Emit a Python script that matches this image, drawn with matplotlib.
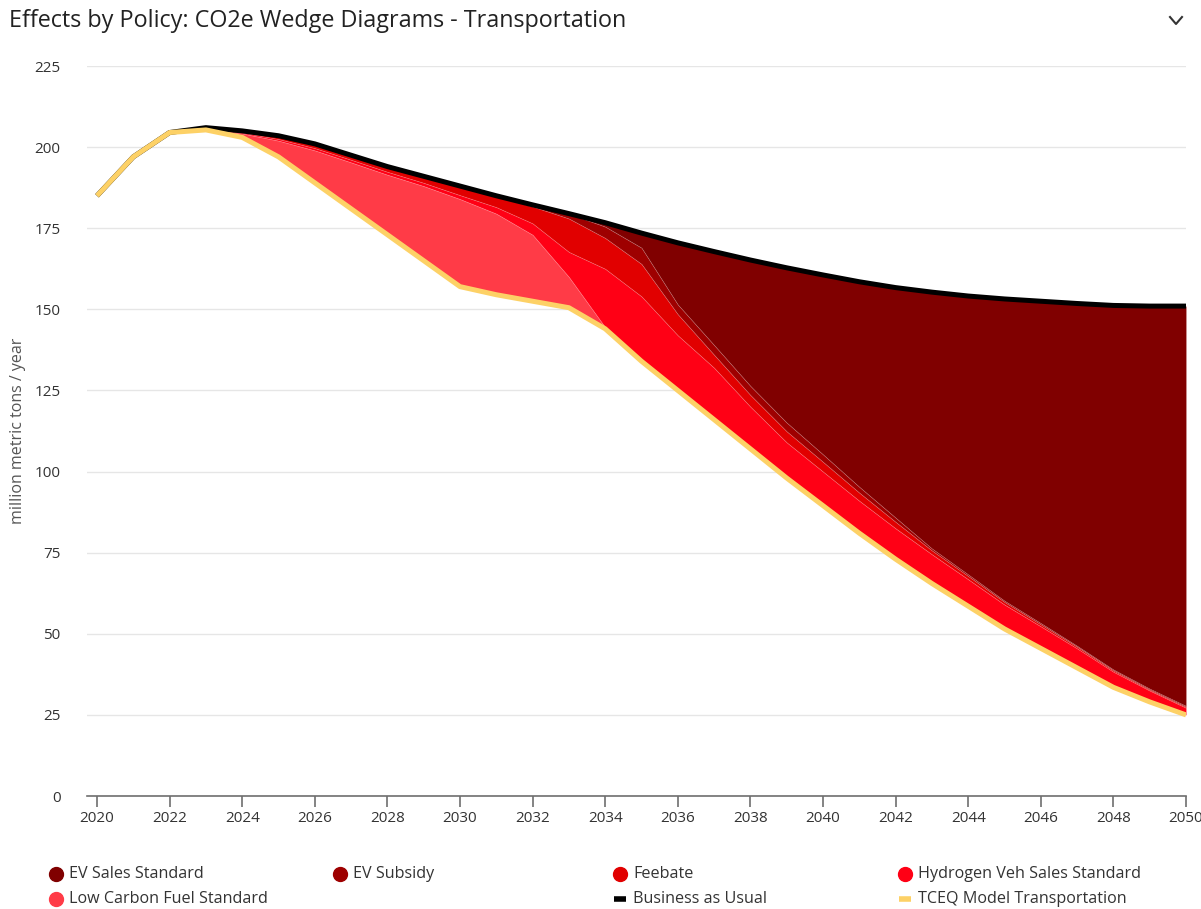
import numpy as np
import matplotlib.pyplot as plt
from matplotlib.lines import Line2D

plt.rcParams['font.family'] = ['Open Sans', 'DejaVu Sans']

# ─── DATA ───────────────────────────────────────────────────────────────
years = list(range(2020, 2051))

tceq = [185, 197, 204.5, 205.3, 203, 197, 189, 181, 173, 165, 157, 154.5, 152.5, 150.5, 144, 134,
        125, 116, 107, 98, 89.5, 81, 73, 65.5, 58.5, 51.5, 45.5, 39.5, 33.5, 29, 25]
bau = [185, 197, 204.5, 206, 205, 203.5, 201, 197.5, 194, 191, 188, 185, 182.2, 179.5, 176.7, 173.5,
       170.5, 167.8, 165.2, 162.8, 160.6, 158.5, 156.7, 155.3, 154.1, 153.2, 152.5, 151.8, 151.2, 151, 151]

lcfs = [0, 0, 0, 0, 1.2, 5, 10, 14.3, 18.5, 23, 27, 25, 20.5, 9.5, 0.5, 0,
        0, 0, 0, 0, 0, 0, 0, 0, 0, 0, 0, 0, 0, 0, 0]
hydrogen = [0, 0, 0, 0, 0.3, 0.5, 0.7, 0.8, 0.9, 1.0, 1.2, 2.0, 3.5, 7.7, 18, 20,
            17, 16, 13, 11, 10.5, 10, 9.5, 9, 8.3, 7.5, 6.8, 6, 4.8, 3.5, 2.2]
feebate = [0, 0, 0, 0, 0.5, 1.0, 1.3, 1.4, 1.6, 2.0, 2.8, 3.5, 5.2, 10.3, 9.5, 10,
           6.5, 4, 3.6, 3.4, 3, 2.5, 2, 1.2, 1.0, 0.8, 0.6, 0.5, 0.4, 0.3, 0.3]
ev_subsidy = [0, 0, 0, 0, 0, 0, 0, 0, 0, 0, 0, 0, 0.5, 1.5, 3.5, 5,
              3, 3, 2.8, 2.7, 2.3, 1.8, 1.3, 0.6, 0.5, 0.4, 0.4, 0.3, 0.3, 0.3, 0.3]
ev_sales = [0, 0, 0, 0, 0, 0, 0, 0, 0, 0, 0, 0, 0, 0, 1.2, 4.5,
            19, 28.8, 38.8, 47.7, 55.3, 63.2, 70.9, 79, 85.8, 93, 99.2, 105.5, 112.2, 117.9, 123.2]

# bottom -> top stacking order above the TCEQ line
layers = [
    ("Low Carbon Fuel Standard", lcfs, "#ff3b47"),
    ("Hydrogen Veh Sales Standard", hydrogen, "#ff0015"),
    ("Feebate", feebate, "#e10000"),
    ("EV Subsidy", ev_subsidy, "#9e0000"),
    ("EV Sales Standard", ev_sales, "#800000"),
]

# ─── PLOT ───────────────────────────────────────────────────────────────
W, H = 1201, 909
fig = plt.figure(figsize=(W / 100, H / 100), dpi=100)
ax = fig.add_axes([87 / W, 1 - 796 / H, (1186 - 87) / W, (796 - 66) / H])

x = np.array(years)
base = np.array(tceq, dtype=float)
for name, vals, col in layers:
    top = base + np.array(vals)
    ax.fill_between(x, base, top, color=col, linewidth=0.6, edgecolor=(1, 1, 1, 0.15), zorder=2)
    base = top

ax.plot(x, bau, color="black", linewidth=3.6, solid_capstyle="butt", zorder=3)
ax.plot(x, tceq, color="#fdd166", linewidth=3.6, solid_capstyle="butt", zorder=4)

ax.set_xlim(2020 - 10 / 36.3, 2050)
ax.set_ylim(0, 225)
ax.set_xticks(range(2020, 2051, 2))
ax.set_yticks(range(0, 226, 25))
ax.grid(axis="y", color="#e6e6e6", linewidth=1)
ax.set_axisbelow(True)
for s in ["top", "right", "left"]:
    ax.spines[s].set_visible(False)
ax.spines["bottom"].set_color("#6e6e6e")
ax.spines["bottom"].set_linewidth(1.2)
ax.tick_params(axis="x", length=8, width=1.2, color="#6e6e6e", labelsize=11, labelcolor="#333333", pad=3)
ax.tick_params(axis="y", length=0, labelsize=11, labelcolor="#333333", pad=19)
ax.set_ylabel("million metric tons / year", fontsize=11.5, color="#555555", labelpad=6)

fig.text(9 / W, 1 - 21 / H, "Effects by Policy: CO2e Wedge Diagrams - Transportation",
         fontsize=16.8, color="#222222", va="center", ha="left")
# collapse chevron
fig.add_artist(Line2D([1170 / W, 1176 / W, 1182 / W], [1 - 17 / H, 1 - 24 / H, 1 - 17 / H],
                      color="#333333", linewidth=1.5))

# ─── LEGEND ─────────────────────────────────────────────────────────────
legend_items = [
    ("EV Sales Standard", "#800000", "dot", 56, 874),
    ("EV Subsidy", "#9e0000", "dot", 340, 874),
    ("Feebate", "#e10000", "dot", 620, 874),
    ("Hydrogen Veh Sales Standard", "#ff0015", "dot", 905, 874),
    ("Low Carbon Fuel Standard", "#ff3b47", "dot", 56, 899),
    ("Business as Usual", "black", "bar", 620, 899),
    ("TCEQ Model Transportation", "#fdd166", "bar", 905, 899),
]
for label, col, kind, px, py in legend_items:
    fy = 1 - py / H
    if kind == "dot":
        fig.add_artist(Line2D([px / W], [fy], marker="o", markersize=10, color=col, linestyle="none"))
    else:
        fig.add_artist(Line2D([(px - 6) / W, (px + 6) / W], [fy, fy], color=col, linewidth=4,
                              solid_capstyle="butt"))
    fig.text((px + 13) / W, fy, label, fontsize=11.6, color="#333333", va="center", ha="left")

fig.savefig("out.png", dpi=100)
